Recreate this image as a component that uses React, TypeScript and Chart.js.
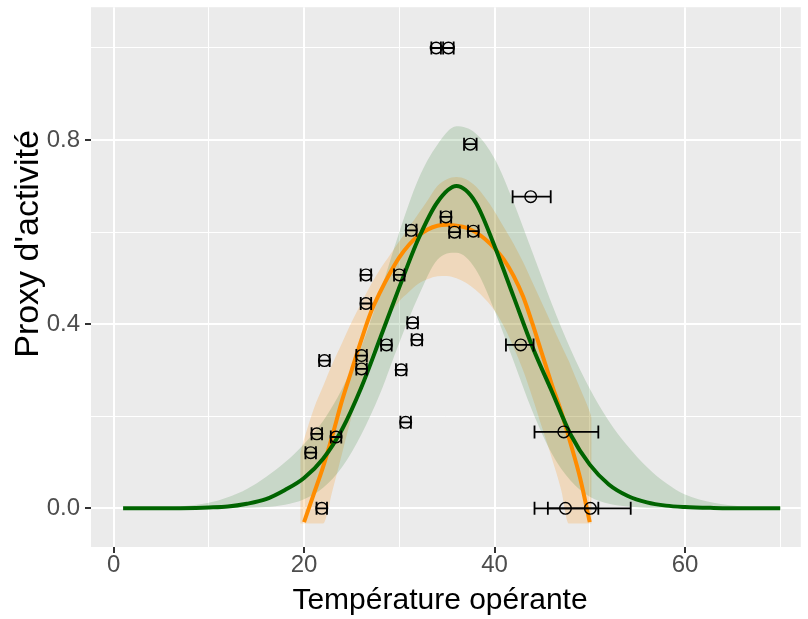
import React, { useEffect, useRef } from 'react';
import { Chart, registerables } from 'chart.js';

Chart.register(...registerables);

// Axis ticks and titles
const xTickValues = [0, 10, 20, 30, 40, 50, 60, 70];
const xTickLabels = ['0', '', '20', '', '40', '', '60', ''];
const yTickValues = [0, 0.2, 0.4, 0.6, 0.8, 1.0];
const yTickLabels = ['0.0', '', '0.4', '', '0.8', ''];
const xTitle = 'Température opérante';
const yTitle = "Proxy d'activité";

// Observations (points with horizontal error bars)
const obsX = [33.87, 35.16, 37.46, 43.8, 34.9, 31.26, 35.8, 37.77, 26.5, 30.0, 26.5, 31.4, 31.85, 28.65, 22.14, 26.04, 26.04, 30.2, 42.75, 30.67, 21.34, 23.36, 20.7, 21.86, 47.27, 47.45, 50.06];
const obsY = [1.0, 1.0, 0.791, 0.677, 0.633, 0.604, 0.6, 0.602, 0.507, 0.507, 0.445, 0.403, 0.366, 0.355, 0.321, 0.332, 0.303, 0.301, 0.355, 0.187, 0.162, 0.155, 0.121, 0.0, 0.166, 0.0, 0.0];
const obsXmin = [33.37, 34.61, 36.8, 41.9, 34.35, 30.71, 35.25, 37.22, 25.95, 29.45, 25.95, 30.85, 31.3, 28.1, 21.59, 25.49, 25.49, 29.65, 41.2, 30.12, 20.79, 22.81, 20.15, 21.31, 44.2, 44.2, 45.6];
const obsXmax = [34.37, 35.71, 38.12, 45.9, 35.45, 31.81, 36.35, 38.32, 27.05, 30.55, 27.05, 31.95, 32.4, 29.2, 22.69, 26.59, 26.59, 30.75, 44.1, 31.22, 21.89, 23.91, 21.25, 22.41, 50.9, 50.9, 54.3];

// Green model (curve + confidence band)
const greenX = [1, 4, 7, 10, 12, 14, 16, 18, 20, 22, 24, 26, 28, 30, 32, 34, 36, 38, 40, 42, 44, 46, 48, 50, 52, 54, 56, 58, 60, 63, 66, 70];
const greenFit = [0, 0, 0.0005, 0.002, 0.004, 0.01, 0.02, 0.04, 0.066, 0.108, 0.172, 0.262, 0.37, 0.48, 0.585, 0.665, 0.7, 0.665, 0.57, 0.46, 0.35, 0.255, 0.16, 0.095, 0.052, 0.027, 0.013, 0.006, 0.003, 0.001, 0, 0];
const greenUpper = [0, 0.001, 0.004, 0.012, 0.024, 0.042, 0.068, 0.1, 0.14, 0.19, 0.26, 0.35, 0.47, 0.6, 0.715, 0.79, 0.83, 0.815, 0.76, 0.665, 0.555, 0.445, 0.345, 0.26, 0.19, 0.135, 0.09, 0.055, 0.03, 0.012, 0.004, 0.001];
const greenLower = [0, 0, 0, 0, 0.0005, 0.001, 0.003, 0.008, 0.02, 0.045, 0.09, 0.16, 0.25, 0.36, 0.46, 0.54, 0.555, 0.52, 0.43, 0.32, 0.21, 0.12, 0.06, 0.025, 0.01, 0.004, 0.001, 0, 0, 0, 0, 0];

// Orange model (curve + confidence band)
const orangeX = [20, 21, 22, 23, 24, 25, 26, 27, 28, 29, 30, 31, 32, 33, 34, 35, 36, 37, 38, 39, 40, 41, 42, 43, 44, 45, 46, 47, 48, 49, 50];
const orangeFit = [-0.03, 0.03, 0.09, 0.16, 0.235, 0.3, 0.365, 0.425, 0.47, 0.51, 0.545, 0.572, 0.592, 0.606, 0.614, 0.616, 0.614, 0.61, 0.6, 0.585, 0.565, 0.54, 0.505, 0.46, 0.4, 0.335, 0.27, 0.21, 0.14, 0.065, -0.03];
const orangeBandX = [19.6, 20, 21, 22, 23, 24, 25, 26, 27, 28, 29, 30, 31, 32, 33, 34, 35, 36, 37, 38, 39, 40, 41, 42, 43, 44, 45, 46, 47, 47.8, 48, 49, 50, 50.2];
const orangeUpper = [0.12, 0.15, 0.215, 0.265, 0.315, 0.36, 0.405, 0.445, 0.485, 0.52, 0.55, 0.58, 0.61, 0.64, 0.67, 0.7, 0.715, 0.72, 0.715, 0.7, 0.675, 0.645, 0.61, 0.575, 0.535, 0.49, 0.445, 0.4, 0.355, 0.32, 0.31, 0.26, 0.21, 0.197];
const orangeLower = [-0.033, -0.033, -0.033, -0.033, 0.04, 0.12, 0.2, 0.27, 0.33, 0.38, 0.42, 0.45, 0.47, 0.488, 0.498, 0.504, 0.505, 0.5, 0.49, 0.475, 0.455, 0.43, 0.395, 0.35, 0.3, 0.24, 0.175, 0.11, 0.04, -0.033, -0.033, -0.033, -0.033, -0.033];

const FONT = "'Liberation Sans', Arial, sans-serif";

const pts = (xs: number[], ys: number[]) => xs.map((x, i) => ({ x, y: ys[i] }));

const panelPlugin = {
  id: 'panelBg',
  beforeDraw(chart: any) {
    const { ctx, chartArea } = chart;
    ctx.save();
    ctx.fillStyle = '#EBEBEB';
    ctx.fillRect(chartArea.left, chartArea.top, chartArea.right - chartArea.left, chartArea.bottom - chartArea.top);
    ctx.restore();
  },
};

const errorBarPlugin = {
  id: 'errorBars',
  afterDatasetsDraw(chart: any) {
    const { ctx, chartArea, scales } = chart;
    const xs = scales.x;
    const ys = scales.y;
    ctx.save();
    ctx.beginPath();
    ctx.rect(chartArea.left, chartArea.top, chartArea.right - chartArea.left, chartArea.bottom - chartArea.top);
    ctx.clip();
    ctx.strokeStyle = '#000000';
    ctx.lineWidth = 1.8;
    const cap = 6.5;
    for (let i = 0; i < obsX.length; i++) {
      const py = ys.getPixelForValue(obsY[i]);
      const x0 = xs.getPixelForValue(obsXmin[i]);
      const x1 = xs.getPixelForValue(obsXmax[i]);
      ctx.beginPath();
      ctx.moveTo(x0, py);
      ctx.lineTo(x1, py);
      ctx.moveTo(x0, py - cap);
      ctx.lineTo(x0, py + cap);
      ctx.moveTo(x1, py - cap);
      ctx.lineTo(x1, py + cap);
      ctx.stroke();
    }
    ctx.restore();
  },
};

const axisTitlePlugin = {
  id: 'axisTitles',
  afterDraw(chart: any) {
    const { ctx } = chart;
    ctx.save();
    ctx.fillStyle = '#000000';
    ctx.textAlign = 'center';
    ctx.textBaseline = 'middle';
    ctx.font = `30px ${FONT}`;
    ctx.fillText(xTitle, 440, 601);
    ctx.translate(29, 244);
    ctx.rotate(-Math.PI / 2);
    ctx.font = `34px ${FONT}`;
    ctx.fillText(yTitle, 0, 0);
    ctx.restore();
  },
};

export default function App() {
  const ref = useRef<HTMLCanvasElement | null>(null);

  useEffect(() => {
    if (!ref.current) return;
    Chart.defaults.font.family = FONT;
    const bandCommon = { pointRadius: 0, borderWidth: 0, cubicInterpolationMode: 'monotone' as const };
    const chart = new Chart(ref.current, {
      type: 'line',
      data: {
        datasets: [
          {
            label: 'obs',
            data: pts(obsX, obsY),
            showLine: false,
            pointRadius: 5.8,
            pointBorderWidth: 1.4,
            pointBorderColor: '#000000',
            pointBackgroundColor: 'rgba(0,0,0,0)',
            fill: false,
          },
          {
            label: 'green',
            data: pts(greenX, greenFit),
            borderColor: '#006400',
            borderWidth: 4,
            pointRadius: 0,
            fill: false,
            cubicInterpolationMode: 'monotone',
          },
          {
            label: 'orange',
            data: pts(orangeX, orangeFit),
            borderColor: '#FF8C00',
            borderWidth: 4,
            pointRadius: 0,
            fill: false,
            cubicInterpolationMode: 'monotone',
          },
          {
            label: 'greenUpper',
            data: pts(greenX, greenUpper),
            ...bandCommon,
            backgroundColor: 'rgba(0,100,0,0.15)',
            fill: '+1',
          },
          {
            label: 'greenLower',
            data: pts(greenX, greenLower),
            ...bandCommon,
            fill: false,
          },
          {
            label: 'orangeUpper',
            data: pts(orangeBandX, orangeUpper),
            ...bandCommon,
            backgroundColor: 'rgba(255,140,0,0.2)',
            fill: '+1',
          },
          {
            label: 'orangeLower',
            data: pts(orangeBandX, orangeLower),
            ...bandCommon,
            fill: false,
          },
        ],
      },
      options: {
        animation: false,
        responsive: false,
        maintainAspectRatio: false,
        layout: { padding: { top: 5, left: 0, right: 0, bottom: 0 } },
        plugins: {
          legend: { display: false },
          tooltip: { enabled: false },
          filler: { drawTime: 'beforeDatasetsDraw' },
        },
        scales: {
          x: {
            type: 'linear',
            min: -2.37,
            max: 72.16,
            afterBuildTicks: (scale: any) => {
              scale.ticks = xTickValues.map((v) => ({ value: v }));
            },
            afterFit: (scale: any) => {
              scale.height = 72;
              scale.paddingLeft = 0;
              scale.paddingRight = 0;
            },
            border: { display: false },
            grid: {
              color: '#FFFFFF',
              lineWidth: (c: any) => (xTickLabels[c.index] ? 2 : 1),
              tickColor: (c: any) => (xTickLabels[c.index] ? '#333333' : 'rgba(0,0,0,0)'),
              tickWidth: 2,
              tickLength: 6,
              drawTicks: true,
            },
            ticks: {
              autoSkip: false,
              maxRotation: 0,
              padding: -2,
              color: '#4D4D4D',
              font: { size: 24 },
              callback: (_v: any, i: number) => xTickLabels[i],
            },
            title: { display: false, text: xTitle },
          },
          y: {
            type: 'linear',
            min: -0.0839,
            max: 1.0886,
            afterBuildTicks: (scale: any) => {
              scale.ticks = yTickValues.map((v) => ({ value: v }));
            },
            afterFit: (scale: any) => {
              scale.width = 91;
              scale.paddingTop = 0;
              scale.paddingBottom = 0;
            },
            border: { display: false },
            grid: {
              color: '#FFFFFF',
              lineWidth: (c: any) => (yTickLabels[c.index] ? 2 : 1),
              tickColor: (c: any) => (yTickLabels[c.index] ? '#333333' : 'rgba(0,0,0,0)'),
              tickWidth: 2,
              tickLength: 6,
              drawTicks: true,
            },
            ticks: {
              autoSkip: false,
              padding: 5,
              color: '#4D4D4D',
              font: { size: 24 },
              callback: (_v: any, i: number) => yTickLabels[i],
            },
            title: { display: false, text: yTitle },
          },
        },
      },
      plugins: [panelPlugin, errorBarPlugin, axisTitlePlugin],
    });
    return () => chart.destroy();
  }, []);

  return (
    <div style={{ position: 'absolute', left: 0, top: 0, width: 808, height: 619 }}>
      <canvas ref={ref} width={808} height={619} style={{ display: 'block' }} />
    </div>
  );
}
